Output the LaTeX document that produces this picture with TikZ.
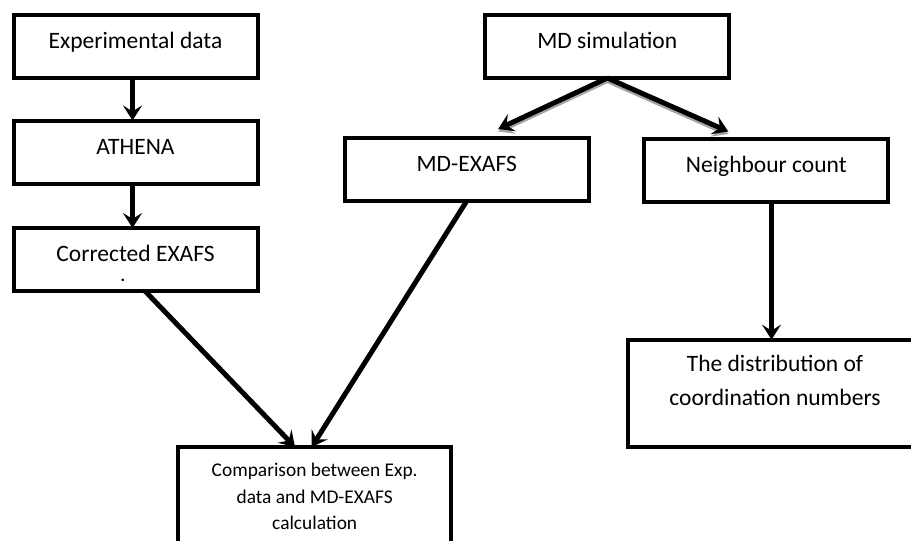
\documentclass[tikz,border=0pt]{standalone}
\usepackage{fontspec}
\setmainfont{Carlito}
\usetikzlibrary{arrows.meta,calc}
\begin{document}
\begin{tikzpicture}[x=1pt,y=-1pt,
  box/.style={draw=black, line width=4pt, fill=white, rectangle, inner sep=0pt, outer sep=0pt,
    minimum width=244pt, minimum height=63pt, font=\fontsize{23.5}{28.7}\selectfont, align=center},
  oneline/.style={text height=14pt, text depth=10pt},
  arr/.style={draw=black, line width=5pt, -{Stealth[length=15pt,width=19pt,inset=6pt]}},
  shadowarr/.style={arr, draw=black!35, fill=black!35, transform canvas={shift={(0,2.5)}}}
]
\useasboundingbox (0,0) rectangle (911,541);
\clip (0,0) rectangle (911,541);

% boxes
\node[box,oneline] (exp) at (135.5,46.5) {Experimental data};
\node[box,oneline] (ath) at (135.5,152) {ATHENA};
\node[box] (corr) at (135.5,259.5) {\rule{0pt}{25pt}Corrected EXAFS\\[-8.7pt]{\fontsize{17}{17}\selectfont\bfseries .}\hspace*{25pt}};
\node[box,oneline] (md) at (607.3,46.5) {MD simulation};
\node[box,oneline] (mdx) at (466.7,169.5) {MD-EXAFS};
\node[box,oneline] (nb) at (766.3,170) {Neighbour count};
\node[box, minimum width=294pt, minimum height=107.3pt, font=\fontsize{23.5}{34}\selectfont] (dist) at (775,393.3)
  {The distribution of\\coordination numbers\rule[-25pt]{0pt}{0pt}};
\node[box, minimum width=273.3pt, minimum height=99.6pt, font=\fontsize{19.4}{26.5}\selectfont] (comp) at (314.7,496.8)
  {Comparison between Exp.\\data and MD-EXAFS\\calculation};

% connector end points
\coordinate (expout) at ($(exp.south)+(-3,0)$);
\coordinate (athin) at ($(ath.north)+(-3,0)$);
\coordinate (athout) at ($(ath.south)+(-3,0)$);
\coordinate (corrin) at ($(corr.north)+(-3,0)$);
\coordinate (mdxin) at ($(mdx.north)+(31.5,-9)$);
\coordinate (nbin) at ($(nb.north)+(-38,-7)$);
\coordinate (nbout) at ($(nb.south)+(5.2,0)$);
\coordinate (distin) at (nbout |- dist.north);
\coordinate (corrout) at ($(corr.south)+(9.5,0)$);
\coordinate (compinl) at ($(comp.north)+(-19.7,0)$);
\coordinate (compinr) at ($(comp.north)+(-3,0)$);

% shadows of the MD simulation arrows
\draw[shadowarr] (md.south) -- (mdxin);
\draw[shadowarr] (md.south) -- (nbin);

% connectors
\draw[arr] (expout) -- (athin);
\draw[arr] (athout) -- (corrin);
\draw[arr] (md.south) -- (mdxin);
\draw[arr] (md.south) -- (nbin);
\draw[arr] (nbout) -- (distin);
\draw[arr] (corrout) -- (compinl);
\draw[arr] (mdx.south) -- (compinr);
\end{tikzpicture}
\end{document}
